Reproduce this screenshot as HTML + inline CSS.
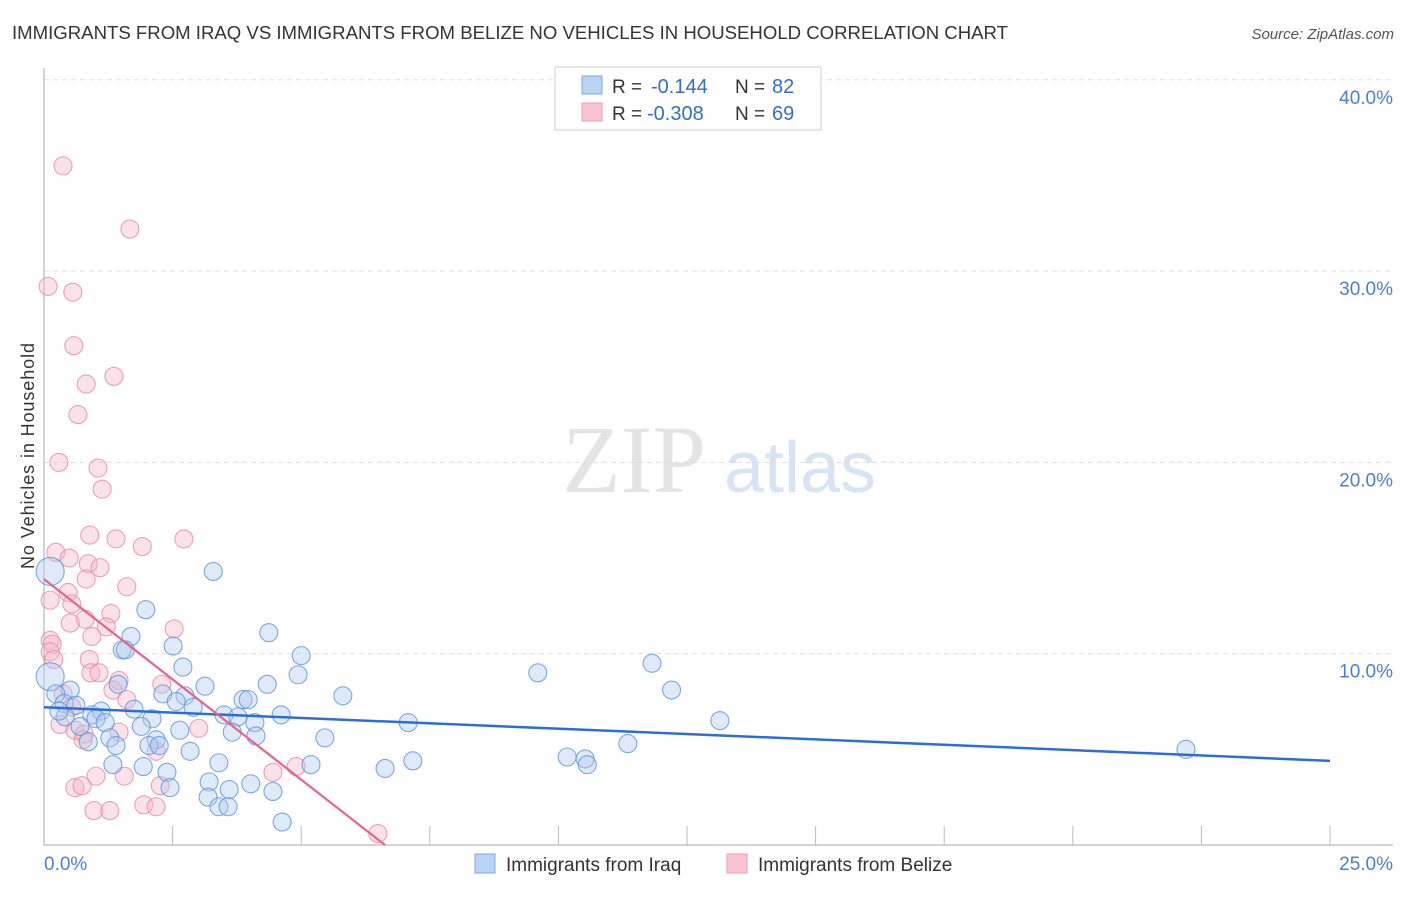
<!DOCTYPE html>
<html><head><meta charset="utf-8"><style>
body{margin:0;background:#fff;font-family:"Liberation Sans",sans-serif}
</style></head><body>
<svg id="c" width="1406" height="892" xmlns="http://www.w3.org/2000/svg">
<text x="12" y="39" font-size="18" fill="#333" textLength="996" lengthAdjust="spacingAndGlyphs">IMMIGRANTS FROM IRAQ VS IMMIGRANTS FROM BELIZE NO VEHICLES IN HOUSEHOLD CORRELATION CHART</text>
<text x="1394" y="39" font-size="15" fill="#555" font-style="italic" text-anchor="end">Source: ZipAtlas.com</text>
<text x="634" y="492" font-size="96" fill="#e4e4e4" font-family="Liberation Serif,serif" text-anchor="middle">ZIP</text>
<text x="800" y="492" font-size="72" fill="#d6e4f6" text-anchor="middle">atlas</text>
<text transform="translate(34,456) rotate(-90)" font-size="18" fill="#333" text-anchor="middle" textLength="226">No Vehicles in Household</text>
<g id="grid"></g><g id="pts"></g><g id="trend"></g>
<g>
<rect x="555" y="67" width="266" height="63" fill="#fff" stroke="#ccc"/>
<rect x="582" y="76" width="20" height="18" fill="#b9d3f4" stroke="#7aa8e4"/>
<rect x="582" y="103" width="20" height="18" fill="#f9c5d3" stroke="#ee9ab4"/>
<text x="612" y="93" font-size="19" fill="#333">R =</text><text x="651" y="93" font-size="20" fill="#2f6fd0">-0.144</text>
<text x="735" y="93" font-size="19" fill="#333">N =</text><text x="772" y="93" font-size="20" fill="#2f6fd0">82</text>
<text x="612" y="120" font-size="19" fill="#333">R =</text><text x="647" y="120" font-size="20" fill="#2f6fd0">-0.308</text>
<text x="735" y="120" font-size="19" fill="#333">N =</text><text x="772" y="120" font-size="20" fill="#2f6fd0">69</text>
</g>
<g>
<rect x="475" y="854" width="20" height="19" fill="#b9d3f4" stroke="#7aa8e4"/>
<text x="506" y="871" font-size="19" fill="#333">Immigrants from Iraq</text>
<rect x="727" y="854" width="20" height="19" fill="#f9c5d3" stroke="#ee9ab4"/>
<text x="758" y="871" font-size="19" fill="#333">Immigrants from Belize</text>
</g>
</svg>
<script>
const yTicks=[10,20,30,40];
const xTickLabels=["0.0%","25.0%"];
const iraqX=[0.12,0.12,3.29,1.98,1.69,4.37,1.52,1.58,2.51,5.0,2.70,4.94,9.6,11.82,12.2,4.34,3.13,1.44,2.31,2.74,5.81,3.87,3.97,2.57,2.9,1.75,0.51,0.23,0.39,0.62,0.93,1.11,1.01,1.19,0.41,0.29,2.10,3.50,3.77,4.61,4.10,3.66,1.89,2.64,7.08,13.14,0.70,1.28,0.86,1.40,2.18,2.04,2.24,2.84,4.12,5.46,11.35,10.17,10.52,10.56,7.17,6.63,5.19,3.40,1.34,1.93,2.39,3.21,2.45,3.60,4.02,4.45,3.19,3.40,3.58,4.63,22.2];
const iraqY=[14.3,8.8,14.3,12.3,10.9,11.1,10.2,10.2,10.4,9.9,9.3,8.9,9.0,9.5,8.1,8.4,8.3,8.4,7.9,7.8,7.8,7.6,7.6,7.5,7.2,7.1,8.1,7.9,7.4,7.3,6.8,7.0,6.6,6.4,6.7,7.0,6.6,6.8,6.7,6.8,6.4,5.9,6.2,6.0,6.4,6.5,6.2,5.6,5.4,5.2,5.5,5.2,5.2,4.9,5.7,5.6,5.3,4.6,4.5,4.2,4.4,4.0,4.2,4.3,4.2,4.1,3.8,3.3,3.0,2.9,3.2,2.8,2.5,2.0,2.0,1.2,5.0];
const belizeX=[0.37,1.67,0.08,0.56,0.58,0.82,1.36,0.66,0.29,1.05,1.13,0.89,1.40,1.91,2.72,0.23,0.49,0.86,1.09,0.82,1.61,0.47,0.12,0.54,1.30,0.80,0.51,1.21,2.53,0.93,0.12,0.16,0.12,0.19,0.88,0.91,1.07,1.46,2.29,1.34,1.61,0.37,0.54,0.31,0.60,0.78,0.76,1.46,2.18,3.01,1.01,1.56,4.45,4.90,0.60,0.74,2.26,1.94,2.18,0.97,1.28,6.49];
const belizeY=[35.5,32.2,29.2,28.9,26.1,24.1,24.5,22.5,20.0,19.7,18.6,16.2,16.0,15.6,16.0,15.3,15.0,14.7,14.5,13.9,13.5,13.2,12.8,12.6,12.1,11.8,11.6,11.4,11.3,10.9,10.7,10.5,10.1,9.7,9.7,9.0,9.0,8.6,8.4,8.1,7.6,7.9,7.2,6.3,6.0,5.8,5.5,5.9,4.9,6.1,3.6,3.6,3.8,4.1,3.0,3.1,3.1,2.1,2.0,1.8,1.8,0.6];
const iraqTrend=[7.2,4.4];
const belizeTrend=[13.9,0];
const belizeTrendEndX=6.63;
const X=v=>44+v/25*1286, Y=v=>845-v*19.13;
const NS="http://www.w3.org/2000/svg";
function mk(p,t,a){const e=document.createElementNS(NS,t);for(const k in a)e.setAttribute(k,a[k]);p.appendChild(e);return e;}
const g=document.getElementById('grid');
yTicks.forEach(t=>{
 const l=mk(g,'line',{x1:44,x2:1393,y1:Y(t),y2:Y(t),stroke:'#ddd','stroke-dasharray':'5,4'});
 
 
 const tx=mk(g,'text',{x:1393,y:Y(t)+24,'font-size':19,fill:'#4a7fd4','text-anchor':'end'});
 tx.textContent=t.toFixed(1)+'%';
 
 
});
const ax=mk(g,'line',{x1:44,x2:44,y1:68,y2:845,stroke:'#aaa'});


const bx=mk(g,'line',{x1:44,x2:1393,y1:845,y2:845,stroke:'#aaa'});


for(let i=1;i<=10;i++){const t=mk(g,'line',{x1:X(i*2.5),x2:X(i*2.5),y1:826,y2:845,stroke:'#bbb'});
 
 }
[[0,'start',44],[25,'end',1393]].forEach((d,i)=>{const t=mk(g,'text',{x:d[2],y:870,'font-size':19,fill:'#4a7fd4','text-anchor':d[1]});t.textContent=xTickLabels[i];
 
 });
const p=document.getElementById('pts');
function pts(xs,ys,f,s,name,big){xs.forEach((x,i)=>{const r=(big&&x<0.2)?14:9;
 const c=mk(p,'circle',{cx:X(x),cy:Y(ys[i]),r:r,fill:f,'fill-opacity':0.4,stroke:s,'stroke-width':1.1,'stroke-opacity':0.8});
 
 });}
pts(belizeX,belizeY,'#f6b6c8','#e98aa7','belize-point',false);
pts(iraqX,iraqY,'#aecbf1','#5b93dc','iraq-point',true);
const tr=document.getElementById('trend');
const l1=mk(tr,'line',{x1:X(0),y1:Y(iraqTrend[0]),x2:X(25),y2:Y(iraqTrend[1]),stroke:'#2a6fd6','stroke-width':2.5});


const l2=mk(tr,'line',{x1:X(0),y1:Y(belizeTrend[0]),x2:X(belizeTrendEndX),y2:Y(belizeTrend[1]),stroke:'#e8628f','stroke-width':2.2});


</script>
</body></html>
